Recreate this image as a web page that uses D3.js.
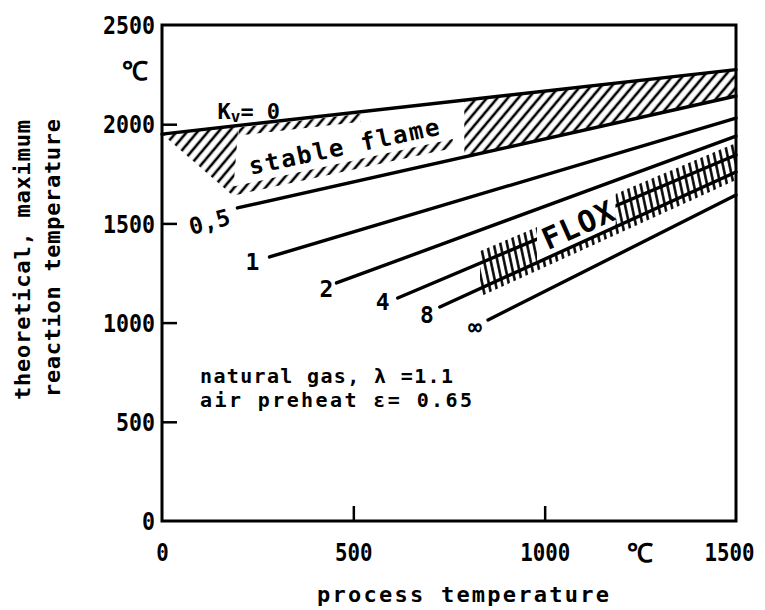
<!DOCTYPE html>
<html><head><meta charset="utf-8">
<script src="https://cdn.jsdelivr.net/npm/d3@7"></script>
<style>body{margin:0;background:#fff} svg{display:block}</style>
</head><body>
<svg id="c" width="765" height="610"></svg>
<script>
// ---------- data ----------
const xTicks = [0, 500, 1000, 1500];
const yTicks = [0, 500, 1000, 1500, 2000, 2500];
const kv0   = [[0,1950],[1500,2275]];
const kv05  = [[197,1578],[1500,2142]];
const kv1   = [[281,1331],[1500,2031]];
const kv2   = [[456,1200],[1500,1940]];
const kv4   = [[616,1124],[1500,1845]];
const kv8   = [[726,1079],[1500,1759]];
const kvInf = [[852,1013],[1500,1643]];
const curveLabels = ["0,5","1","2","4","8","\u221E"];
const stableTri   = [[0,1950],[200,1993],[185,1640]];
const stableLower = [[185,1640],[760,1880]];
const stableTopRow = [200,520];
const stableRight  = [790,1500];
const floxLeft  = [831,980];
const floxRight = [1185,1500];
const noteLines = ["natural gas, \u03BB =1.1","air preheat \u03B5= 0.65"];

// ---------- setup ----------
const svg = d3.select("#c");
const FONT = "'DejaVu Sans Mono', monospace";
const x = d3.scaleLinear().domain([0,1500]).range([162,736]);
const y = d3.scaleLinear().domain([0,2500]).range([521,25]);

const defs = svg.append("defs");
function pattern(id, rot, w, sw){
  defs.append("pattern").attr("id",id).attr("patternUnits","userSpaceOnUse")
    .attr("width",w).attr("height",w).attr("patternTransform",`rotate(${rot})`)
    .append("line").attr("x1",w/2).attr("y1",0).attr("x2",w/2).attr("y2",w)
    .attr("stroke","#000").attr("stroke-width",sw);
}
pattern("hatchS",40,8,2.6);
pattern("hatchF",-12,6.5,2.5);

const fOf = pts => d3.scaleLinear().domain(pts.map(d=>d[0])).range(pts.map(d=>d[1]));
const samples = (a,b,n=40) => d3.range(n+1).map(i=>a+(b-a)*i/n);
function bandPoly(fT,fB,a,b,offT=0,offB=0){
  const xs = samples(a,b);
  const top = xs.map(v=>[x(v), y(fT(v))+offT]);
  const bot = xs.slice().reverse().map(v=>[x(v), y(fB(v))+offB]);
  return top.concat(bot);
}
const polyPath = d3.line();
function drawPoly(pts, fill){
  svg.append("path").attr("d", polyPath(pts)+"Z").attr("fill",fill).attr("stroke","none");
}

const f0=fOf(kv0), f05=fOf(kv05), f4=fOf(kv4), f8=fOf(kv8), fLow=fOf(stableLower);

// ---------- stable flame hatching ----------
drawPoly(stableTri.map(d=>[x(d[0]),y(d[1])]), "url(#hatchS)");
drawPoly(bandPoly(f0,f0,stableTopRow[0],stableTopRow[1],2,10), "url(#hatchS)");
drawPoly(bandPoly(fLow,fLow,stableLower[0][0],stableLower[1][0],-9,0), "url(#hatchS)");
drawPoly(bandPoly(f0,f05,stableRight[0],stableRight[1]), "url(#hatchS)");

// ---------- FLOX hatching ----------
[floxLeft, floxRight].forEach(r=>{
  drawPoly(bandPoly(f4,f4,r[0],r[1],-12,0), "url(#hatchF)");
  drawPoly(bandPoly(f4,f8,r[0],r[1]), "url(#hatchF)");
});
drawPoly(bandPoly(f8,f8,floxLeft[0],floxRight[1],0,8), "url(#hatchF)");

// ---------- curves ----------
const line = d3.line().x(d=>x(d[0])).y(d=>y(d[1]));
const allCurves = [kv0,kv05,kv1,kv2,kv4,kv8,kvInf];
svg.append("g").selectAll("path").data(allCurves).join("path")
  .attr("d",line).attr("fill","none").attr("stroke","#000")
  .attr("stroke-width",3.4).attr("stroke-linecap","round");

// mask behind FLOX text (hides Kv=4 line there)
drawPoly(bandPoly(f4,f8,floxLeft[1],floxRight[0],-14,-3), "#fff");

// ---------- frame & axes ----------
svg.append("path")
  .attr("d",`M${x(0)},${y(0)}L${x(0)},${y(2500)}L${x(1500)},${y(2500)}L${x(1500)},${y(0)}Z`)
  .attr("fill","none").attr("stroke","#000").attr("stroke-width",3);

const gx = svg.append("g").attr("transform",`translate(0,${y(0)})`)
  .call(d3.axisBottom(x).tickValues(xTicks).tickSize(-15).tickPadding(0).tickFormat(d3.format("d")));
gx.select(".domain").remove();
gx.selectAll(".tick line").attr("stroke","#000").attr("stroke-width",2.5)
  .attr("display",d=>(d===0||d===1500)?"none":null);
gx.selectAll(".tick text").attr("y",40).attr("dy",0)
  .attr("x",d=>d===1500?-7:0)
  .attr("font-family",FONT).attr("font-weight","bold").attr("font-size",24).attr("fill","#000")
  .attr("textLength",d=>String(d).length*12.5).attr("lengthAdjust","spacingAndGlyphs");

const gy = svg.append("g").attr("transform",`translate(${x(0)},0)`)
  .call(d3.axisLeft(y).tickValues(yTicks).tickSize(-15).tickPadding(7).tickFormat(d3.format("d")));
gy.select(".domain").remove();
gy.selectAll(".tick line").attr("stroke","#000").attr("stroke-width",2.5)
  .attr("display",d=>(d===0||d===2500)?"none":null);
gy.selectAll(".tick text").attr("dy","0.36em")
  .attr("font-family",FONT).attr("font-weight","bold").attr("font-size",24).attr("fill","#000")
  .attr("textLength",d=>String(d).length*13).attr("lengthAdjust","spacingAndGlyphs");

// unit symbols
function txt(s, X, Y, opts={}){
  const t = svg.append("text").attr("x",X).attr("y",Y).text(s)
    .attr("font-family",FONT).attr("font-weight",opts.w||"bold").attr("font-size",opts.size||22)
    .attr("fill","#000").attr("text-anchor",opts.anchor||"start");
  if(opts.len) t.attr("textLength",opts.len).attr("lengthAdjust",opts.adj||"spacing");
  if(opts.rot!==undefined) t.attr("transform",`rotate(${opts.rot},${X},${Y})`);
  return t;
}
txt("\u2103", 135, 80, {anchor:"middle", size:26});
txt("\u2103", 640, 562, {anchor:"middle", size:26});

// axis titles
txt("theoretical, maximum", 30, 260, {anchor:"middle", rot:-90, size:22, len:280});
txt("reaction temperature", 60, 258, {anchor:"middle", rot:-90, size:22, len:278});
txt("process temperature", 463, 602, {anchor:"middle", size:22, len:292});

// curve labels
const starts = [kv05,kv1,kv2,kv4,kv8,kvInf].map(c=>c[0]);
const offs = [[-28,14,-15],[-17,5,0],[-10,6,0],[-15,4,0],[-13,8,0],[-13,7,0]];
starts.forEach((s,i)=>{
  const X = x(s[0])+offs[i][0], Y = y(s[1])+offs[i][1];
  txt(curveLabels[i], X, Y, {anchor:"middle", size:23, rot:offs[i][2]}).attr("dominant-baseline","central");
});
// Kv = 0 label
const kvT = svg.append("text").attr("x",x(145)).attr("y",y(f0(145))-9)
  .attr("font-family",FONT).attr("font-weight","bold").attr("font-size",22).attr("fill","#000");
kvT.append("tspan").text("K");
kvT.append("tspan").attr("font-size",16).attr("dy",3).text("v");
kvT.append("tspan").attr("dy",-3).text("= 0");

// region labels
txt("stable flame", x(232), y(1745), {size:24, len:194, rot:-12});
txt("FLOX", x(1000)+3, y(f8(1000))-9, {size:30, len:76, rot:-24});

// note
noteLines.forEach((s,i)=> txt(s, 200, 383+24*i, {size:20, len: i===0?253:272}));
</script>
</body></html>
